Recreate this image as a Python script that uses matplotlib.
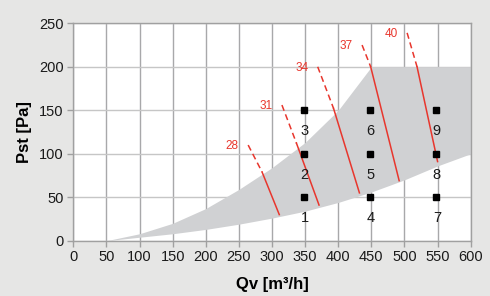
import matplotlib
matplotlib.use('Agg')
import matplotlib.pyplot as plt

plt.rcParams['font.family'] = ['Liberation Sans', 'DejaVu Sans']

# Working range (grey area)
qv = [50, 100, 150, 200, 250, 300, 350, 400, 450, 500, 550, 600]
pst_upper = [0, 8, 20, 37, 59, 84, 113, 150, 200, 200, 200, 200]
pst_lower = [0, 4, 8, 13, 19, 26, 34, 44, 56, 70, 86, 100]

# Fan speed lines: dashed top, start of solid, end of solid
fan_labels = ['28', '31', '34', '37', '40']
dash_q = [264, 315, 369, 436, 504]
dash_p = [110, 156, 200, 225, 239]
mid_q = [285, 337, 393, 449, 519]
mid_p = [79, 112, 152, 200, 200]
end_q = [311, 371, 432, 492, 550]
end_p = [30, 41, 55, 69, 91]

# Measuring points
pt_q = [348, 348, 348, 448, 448, 448, 548, 548, 548]
pt_p = [50, 100, 150, 50, 100, 150, 50, 100, 150]
pt_labels = ['1', '2', '3', '4', '5', '6', '7', '8', '9']

red = '#e8362d'
bg = '#e6e6e5'

fig = plt.figure(figsize=(4.9, 2.96), dpi=100, facecolor=bg)
ax = fig.add_axes([0.1496, 0.1868, 0.8110, 0.7345])
ax.set_facecolor('white')

ax.set_xlim(0, 600)
ax.set_ylim(0, 250)
ax.set_xticks(range(0, 601, 50))
ax.set_yticks(range(0, 251, 50))

# grid below the fill
for x in range(0, 601, 50):
    ax.axvline(x, color='#a8a8aa', lw=1, zorder=0)
for y in range(0, 251, 50):
    ax.axhline(y, color='#c6c6c6', lw=1, zorder=0)

ax.fill_between(qv, pst_lower, pst_upper, color='#d0d1d3', lw=0, zorder=1)

for i in range(len(fan_labels)):
    ax.plot([dash_q[i], mid_q[i]], [dash_p[i], mid_p[i]], color=red, lw=1.1,
            linestyle=(0, (4, 2.5)), zorder=2)
    ax.plot([mid_q[i], end_q[i]], [mid_p[i], end_p[i]], color=red, lw=1.1, zorder=2)
    ax.text(dash_q[i] - 14, dash_p[i] - 1, fan_labels[i], color=red, fontsize=8.5,
            ha='right', va='center', zorder=3)

ax.plot(pt_q, pt_p, 's', color='black', markersize=3.8, zorder=4)
for q, p, lab in zip(pt_q, pt_p, pt_labels):
    ax.text(q + 1, p - 24, lab, fontsize=10.5, ha='center', va='center', color='#1a1a1a', zorder=4)

for s in ax.spines.values():
    s.set_color('#a0a0a0')
    s.set_linewidth(1)
ax.tick_params(axis='both', colors='#a0a0a0', labelcolor='#1a1a1a', length=4,
               width=1, labelsize=10.5, pad=3)

ax.set_xlabel('Qv [m³/h]', fontsize=12, fontweight='bold', labelpad=9)
ax.set_ylabel('Pst [Pa]', fontsize=12, fontweight='bold', labelpad=5)

fig.savefig('out.png', dpi=100, facecolor=bg)
